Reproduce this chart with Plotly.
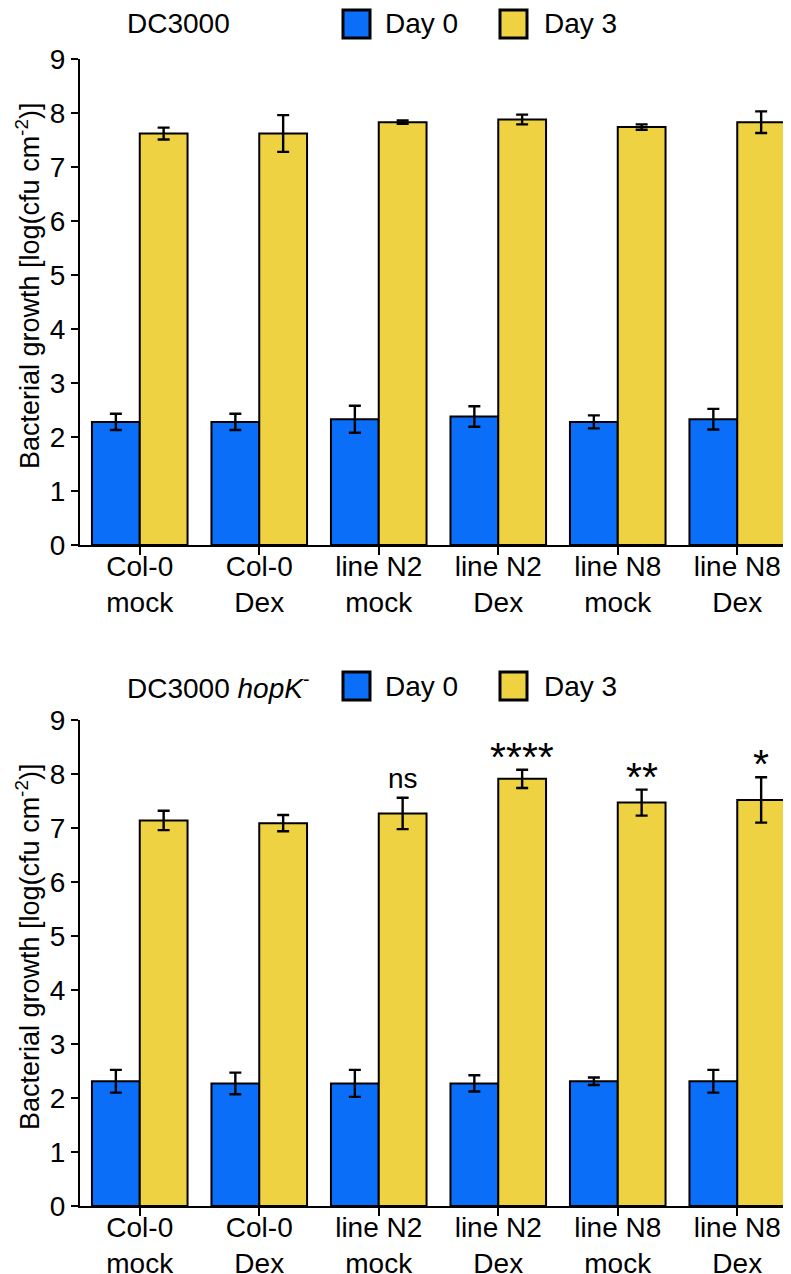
import plotly.graph_objects as go

# ---- data ----
categories = ["Col-0<br>mock", "Col-0<br>Dex", "line N2<br>mock", "line N2<br>Dex", "line N8<br>mock", "line N8<br>Dex"]

top_day0 = [2.28, 2.28, 2.33, 2.38, 2.28, 2.33]
top_day0_err = [0.15, 0.15, 0.25, 0.19, 0.12, 0.19]
top_day3 = [7.62, 7.62, 7.83, 7.88, 7.74, 7.83]
top_day3_err = [0.11, 0.34, 0.03, 0.09, 0.05, 0.20]

bot_day0 = [2.31, 2.27, 2.27, 2.27, 2.31, 2.31]
bot_day0_err = [0.21, 0.20, 0.25, 0.15, 0.07, 0.21]
bot_day3 = [7.14, 7.09, 7.27, 7.91, 7.47, 7.52]
bot_day3_err = [0.18, 0.15, 0.29, 0.17, 0.24, 0.42]
bot_sig = ["", "", "ns", "****", "**", "*"]

series_names = ["Day 0", "Day 3"]
titles = ["DC3000", "DC3000 <i>hopK</i><sup>-</sup>"]
y_title = "Bacterial growth [log(cfu cm<sup>-2</sup>)]"

BLUE = "#0A6EF8"
YELLOW = "#EED242"
FONT = "Liberation Sans, Arial, sans-serif"

# page has an 8px body margin: compensate so the plot lands at reference pixels
OFF = 8
W, H = 791 - OFF, 1274 - OFF
ML = 80 - OFF

fig = go.Figure()

def add_bars(vals, errs, name, color, xa, ya):
    fig.add_trace(go.Bar(
        x=list(range(len(categories))), y=vals, name=name,
        marker=dict(color=color, line=dict(color="black", width=2)),
        error_y=dict(type="data", array=errs, color="black", thickness=2.4, width=6),
        xaxis=xa, yaxis=ya, showlegend=False,
    ))

add_bars(top_day0, top_day0_err, series_names[0], BLUE, "x", "y")
add_bars(top_day3, top_day3_err, series_names[1], YELLOW, "x", "y")
add_bars(bot_day0, bot_day0_err, series_names[0], BLUE, "x2", "y2")
add_bars(bot_day3, bot_day3_err, series_names[1], YELLOW, "x2", "y2")

# reference-pixel helpers (page coordinates)
def px_x(p):
    return (p - OFF - ML) / (W - ML)

def px_y(p):
    return 1 - (p - OFF) / H

top_dom = [px_y(545), px_y(59)]
bot_dom = [px_y(1206), px_y(720)]

xaxis_common = dict(
    tickmode="array", tickvals=list(range(6)), ticktext=categories,
    range=[-0.5, -0.5 + (W - ML) / 119.5],
    showline=True, linecolor="black", linewidth=2,
    ticks="outside", ticklen=8, tickwidth=2, tickcolor="black",
    showgrid=False, zeroline=False,
    tickfont=dict(family=FONT, size=28, color="black"),
    ticklabelstandoff=-13,
    automargin=False, fixedrange=True,
)
yaxis_common = dict(
    range=[0, 9], tickmode="array", tickvals=list(range(10)),
    showline=True, linecolor="black", linewidth=2,
    ticks="outside", ticklen=7, tickwidth=2, tickcolor="black",
    showgrid=False, zeroline=False,
    tickfont=dict(family=FONT, size=28, color="black"),
    automargin=False,
)

fig.update_layout(
    width=W, height=H,
    margin=dict(l=ML, r=0, t=0, b=0),
    paper_bgcolor="white", plot_bgcolor="white",
    barmode="group", bargap=0.2, bargroupgap=0,
    xaxis=dict(**xaxis_common, domain=[0, 1], anchor="y"),
    yaxis=dict(**yaxis_common, domain=top_dom, anchor="x"),
    xaxis2=dict(**xaxis_common, domain=[0, 1], anchor="y2"),
    yaxis2=dict(**yaxis_common, domain=bot_dom, anchor="x2"),
    font=dict(family=FONT, color="black"),
    showlegend=False,
)

fig.update_xaxes(tickson="boundaries")

# ---- custom legends / titles ----
shapes = []
annotations = []
for title, cy, ty in zip(titles, [24, 686], [286, 947]):
    # y-axis title
    annotations.append(dict(
        text=y_title, xref="paper", yref="paper", x=px_x(28), y=px_y(ty),
        xanchor="center", yanchor="middle", textangle=-90, showarrow=False,
        font=dict(family=FONT, size=27, color="black"),
    ))
    annotations.append(dict(
        text=title, xref="paper", yref="paper", x=px_x(125), y=px_y(cy),
        xanchor="left", yanchor="middle", showarrow=False,
        font=dict(family=FONT, size=28, color="black"),
    ))
    for (x0, tx), name, col in zip([(343, 383), (500, 542)], series_names, [BLUE, YELLOW]):
        shapes.append(dict(
            type="rect", xref="paper", yref="paper",
            x0=px_x(x0), x1=px_x(x0 + 27), y0=px_y(cy - 14), y1=px_y(cy + 14),
            fillcolor=col, line=dict(color="black", width=3),
        ))
        annotations.append(dict(
            text=name, xref="paper", yref="paper", x=px_x(tx), y=px_y(cy),
            xanchor="left", yanchor="middle", showarrow=False,
            font=dict(family=FONT, size=28, color="black"),
        ))

# significance marks above Day 3 bars (bottom panel)
for i, s in enumerate(bot_sig):
    if not s:
        continue
    is_star = "*" in s
    annotations.append(dict(
        text=s, xref="x2", yref="y2", x=i + 0.2, y=bot_day3[i] + bot_day3_err[i],
        xanchor="center", yanchor="bottom", showarrow=False,
        yshift=(-12 if is_star else 2),
        font=dict(family=FONT, size=(41 if is_star else 28), color="black"),
    ))

fig.update_layout(shapes=shapes, annotations=annotations)

fig.write_html("out.html")
